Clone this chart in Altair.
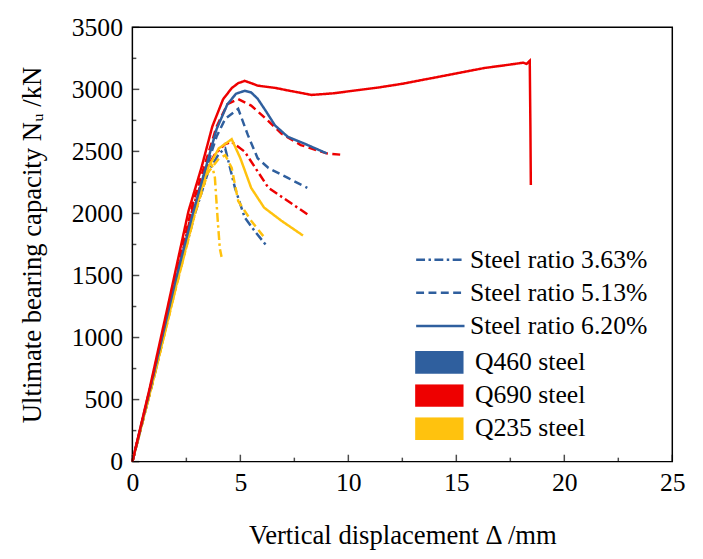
import altair as alt
import pandas as pd

# ---- data (x: vertical displacement mm, y: bearing capacity kN)
q460_363_x = [0, 1.0, 2.0, 2.9, 3.5, 4.0, 4.3, 4.45, 4.75, 5.2, 5.65, 6.2]
q460_363_y = [0, 680, 1420, 2000, 2330, 2480, 2524, 2418, 2206, 1968, 1861, 1742]

q235_363_x = [0, 1.0, 2.0, 2.9, 3.3, 3.55, 3.7, 3.82, 3.95, 4.05, 4.13]
q235_363_y = [0, 680, 1390, 2000, 2300, 2430, 2380, 2290, 1950, 1716, 1650]

q235_513_x = [0, 1.0, 2.0, 2.9, 3.5, 4.0, 4.3, 4.6, 4.9, 5.5, 6.1]
q235_513_y = [0, 680, 1390, 2000, 2330, 2440, 2470, 2366, 2100, 1941, 1809]

q460_513_x = [0, 1.0, 2.0, 2.8, 3.4, 3.9, 4.3, 4.9, 5.35, 5.8, 6.3, 7.2, 8.1]
q460_513_y = [0, 690, 1440, 1990, 2350, 2620, 2763, 2843, 2631, 2445, 2366, 2286, 2206]

q690_363_x = [0, 1.0, 2.0, 2.8, 3.4, 3.8, 4.3, 4.6, 5.2, 5.8, 6.3, 7.2, 8.1]
q690_363_y = [0, 700, 1450, 2050, 2350, 2471, 2560, 2577, 2498, 2339, 2206, 2100, 1994]

q235_620_x = [0, 1.0, 2.0, 2.9, 3.5, 4.0, 4.6, 5.0, 5.5, 6.1, 6.9, 7.9]
q235_620_y = [0, 680, 1400, 2020, 2366, 2524, 2598, 2445, 2206, 2047, 1941, 1822]

q690_513_x = [0, 1.0, 2.0, 2.8, 3.4, 3.9, 4.4, 4.9, 5.5, 6.1, 6.9, 7.8, 9.0, 9.8]
q690_513_y = [0, 720, 1500, 2080, 2420, 2700, 2880, 2922, 2869, 2776, 2644, 2551, 2484, 2471]

q460_620_x = [0, 1.0, 2.0, 2.8, 3.4, 3.9, 4.4, 4.8, 5.2, 5.5, 5.8, 6.2, 6.6, 7.2, 8.0, 9.0]
q460_620_y = [0, 720, 1460, 2000, 2370, 2680, 2880, 2965, 2988, 2975, 2925, 2820, 2710, 2617, 2560, 2484]

q690_620_x = [0, 0.8, 1.6, 2.6, 3.2, 3.7, 4.2, 4.6, 4.9, 5.2, 5.5, 5.8, 6.6, 7.3, 8.3, 9.3,
              10.5, 11.4, 12.5, 14.3, 16.3, 17.5, 18.1, 18.25, 18.4, 18.43, 18.45]
q690_620_y = [0, 590, 1220, 2020, 2370, 2700, 2920, 3010, 3050, 3068, 3050, 3030, 3012, 2988, 2955, 2968,
              2995, 3015, 3045, 3105, 3172, 3200, 3215, 3205, 3230, 2700, 2230]

steel_domain = ["Q460 steel", "Q690 steel", "Q235 steel"]
steel_colors = ["#2F5F9E", "#EE0000", "#FFC20E"]
ratio_domain = ["Steel ratio 3.63%", "Steel ratio 5.13%", "Steel ratio 6.20%"]
dash_range = [[9, 3.5, 2.5, 3.5], [8, 4.5], [1, 0]]

x_major = [0, 5, 10, 15, 20, 25]
x_minor = [2.5, 7.5, 12.5, 17.5, 22.5]
y_major = [0, 500, 1000, 1500, 2000, 2500, 3000, 3500]
y_minor = [250, 750, 1250, 1750, 2250, 2750, 3250]

series = [
    ("Q460 steel", "Steel ratio 3.63%", q460_363_x, q460_363_y),
    ("Q235 steel", "Steel ratio 3.63%", q235_363_x, q235_363_y),
    ("Q235 steel", "Steel ratio 5.13%", q235_513_x, q235_513_y),
    ("Q460 steel", "Steel ratio 5.13%", q460_513_x, q460_513_y),
    ("Q690 steel", "Steel ratio 3.63%", q690_363_x, q690_363_y),
    ("Q235 steel", "Steel ratio 6.20%", q235_620_x, q235_620_y),
    ("Q690 steel", "Steel ratio 5.13%", q690_513_x, q690_513_y),
    ("Q460 steel", "Steel ratio 6.20%", q460_620_x, q460_620_y),
    ("Q690 steel", "Steel ratio 6.20%", q690_620_x, q690_620_y),
]

rows = []
for k, (steel, ratio, xs, ys) in enumerate(series):
    for i, (a, b) in enumerate(zip(xs, ys)):
        rows.append({"steel": steel, "ratio": ratio, "sid": k, "order": i, "x": a, "y": b})
df = pd.DataFrame(rows)

FONT = "Liberation Serif"

x_scale = alt.Scale(domain=[0, 25], nice=False, zero=False)
y_scale = alt.Scale(domain=[0, 3500], nice=False, zero=False)

lines = alt.Chart(df).mark_line(strokeWidth=2.5).encode(
    x=alt.X("x:Q", scale=x_scale,
            axis=alt.Axis(values=x_major, title="Vertical displacement Δ /mm", orient="bottom",
                          domain=False, ticks=False, labelPadding=8,
                          labelFlush=False, titlePadding=28, format="d")),
    y=alt.Y("y:Q", scale=y_scale,
            axis=alt.Axis(values=y_major, title="Ultimate bearing capacity Nᵤ /kN", orient="left",
                          domain=False, ticks=False, labelPadding=10,
                          labelFlush=False, titlePadding=25, format="d")),
    color=alt.Color(
        "steel:N", scale=alt.Scale(domain=steel_domain, range=steel_colors),
        legend=alt.Legend(title=None, orient="none", legendX=275, legendY=328,
                          symbolType="stroke", symbolSize=2400, symbolStrokeWidth=23,
                          symbolDash=[1, 0], labelFont=FONT, labelFontSize=26,
                          labelColor="black", labelOffset=0, clipHeight=23, rowPadding=6.5,
                          padding=0, labelLimit=400)),
    strokeDash=alt.StrokeDash(
        "ratio:N", scale=alt.Scale(domain=ratio_domain, range=dash_range),
        legend=alt.Legend(title=None, orient="none", legendX=286, legendY=224,
                          symbolType="stroke", symbolSize=2400, symbolStrokeWidth=2.5,
                          symbolStrokeColor="#2F5F9E", labelFont=FONT, labelFontSize=26,
                          labelColor="black", labelOffset=4, clipHeight=23, rowPadding=6.5,
                          padding=0, labelLimit=400)),
    detail="sid:N",
    order="order:Q",
)

# inward tick marks along the bottom and left frame edges
xmajor_t = alt.Chart(pd.DataFrame({"x": x_major})).mark_tick(
    orient="vertical", size=7, thickness=1.5, color="black", yOffset=-3.5
).encode(x=alt.X("x:Q", scale=x_scale), y=alt.datum(0))

xminor_t = alt.Chart(pd.DataFrame({"x": x_minor})).mark_tick(
    orient="vertical", size=4, thickness=1.5, color="black", yOffset=-2
).encode(x=alt.X("x:Q", scale=x_scale), y=alt.datum(0))

ymajor_t = alt.Chart(pd.DataFrame({"y": y_major})).mark_tick(
    orient="horizontal", size=7, thickness=1.5, color="black", xOffset=3.5
).encode(y=alt.Y("y:Q", scale=y_scale), x=alt.datum(0))

yminor_t = alt.Chart(pd.DataFrame({"y": y_minor})).mark_tick(
    orient="horizontal", size=4, thickness=1.5, color="black", xOffset=2
).encode(y=alt.Y("y:Q", scale=y_scale), x=alt.datum(0))

chart = alt.layer(lines, xmajor_t, xminor_t, ymajor_t, yminor_t).properties(
    width=547, height=440,
    padding={"left": 11, "top": 3, "right": 10, "bottom": 0},
).configure_view(stroke="black", strokeWidth=1.5).configure_axis(
    grid=False, domainColor="black", domainWidth=1.5, tickColor="black", tickWidth=1.5,
    labelFont=FONT, labelFontSize=26, labelColor="black",
    titleFont=FONT, titleFontSize=27, titleFontWeight="normal", titleColor="black",
)

chart.save("out.html", embed_options={"renderer": "svg", "actions": False})
